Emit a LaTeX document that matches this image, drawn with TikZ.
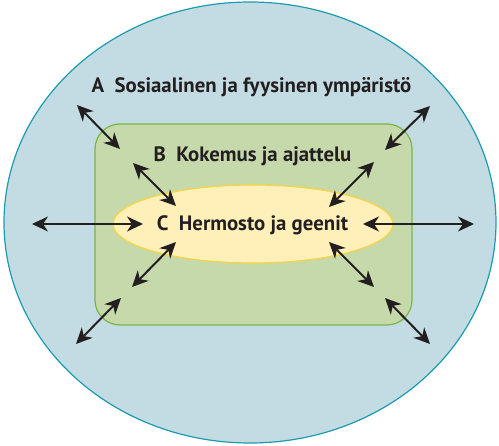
\documentclass[tikz,border=0pt]{standalone}
\usepackage{fontspec}
\setmainfont{PT Sans}
\usetikzlibrary{shapes.geometric,arrows.meta}
\definecolor{outerfill}{HTML}{C3DCE3}
\definecolor{outerline}{HTML}{1C9BB0}
\definecolor{greenfill}{HTML}{C6D9AB}
\definecolor{greenline}{HTML}{7BB548}
\definecolor{yellowfill}{HTML}{FFF0B9}
\definecolor{yellowline}{HTML}{F6D443}
\definecolor{ink}{HTML}{231F20}
\tikzset{
  lbl/.style={font=\fontsize{20.8}{24}\selectfont\bfseries, text=ink, anchor=base, inner sep=0pt},
  dblarrow/.style={draw=ink, line width=2pt, {Stealth[length=16pt,width=15pt,inset=5pt]}-{Stealth[length=16pt,width=15pt,inset=5pt]}}
}
\begin{document}
\begin{tikzpicture}[x=1pt,y=-1pt]
\useasboundingbox (0,0) rectangle (499,446);
\node[ellipse, draw=outerline, fill=outerfill, line width=1.2pt, minimum width=492pt, minimum height=441pt, inner sep=0pt] (outer) at (250,222.5) {};
\node[rectangle, draw=greenline, fill=greenfill, line width=1.2pt, rounded corners=25pt, minimum width=317pt, minimum height=201pt, inner sep=0pt] (mid) at (253.5,224.5) {};
\node[ellipse, draw=yellowline, fill=yellowfill, line width=1.2pt, minimum width=280pt, minimum height=78pt, inner sep=0pt] (inner) at (253,224) {};
\node[lbl] (ta) at (251.5,93) {A\enspace Sosiaalinen ja fyysinen ympäristö};
\node[lbl] (tb) at (252.5,162) {B\enspace Kokemus ja ajattelu};
\node[lbl] (tc) at (252.5,231) {C\enspace Hermosto ja geenit};
% arrow end points
\coordinate (a1s) at (77,105); \coordinate (a1e) at (120,149);
\coordinate (a2s) at (133,163); \coordinate (a2e) at (176,206);
\coordinate (a3s) at (32,224); \coordinate (a3e) at (143,224);
\coordinate (a4s) at (430,106); \coordinate (a4e) at (385,150);
\coordinate (a5s) at (374,162); \coordinate (a5e) at (329,207);
\coordinate (a6s) at (363,224); \coordinate (a6e) at (474,224);
\coordinate (a7s) at (176,242); \coordinate (a7e) at (132,287);
\coordinate (a8s) at (121,298); \coordinate (a8e) at (76,344);
\coordinate (a9s) at (329,242); \coordinate (a9e) at (374,287);
\coordinate (a10s) at (385,298); \coordinate (a10e) at (430,344);
\foreach \i in {1,...,10} {\draw[dblarrow] (a\i s) -- (a\i e);}
\end{tikzpicture}
\end{document}
